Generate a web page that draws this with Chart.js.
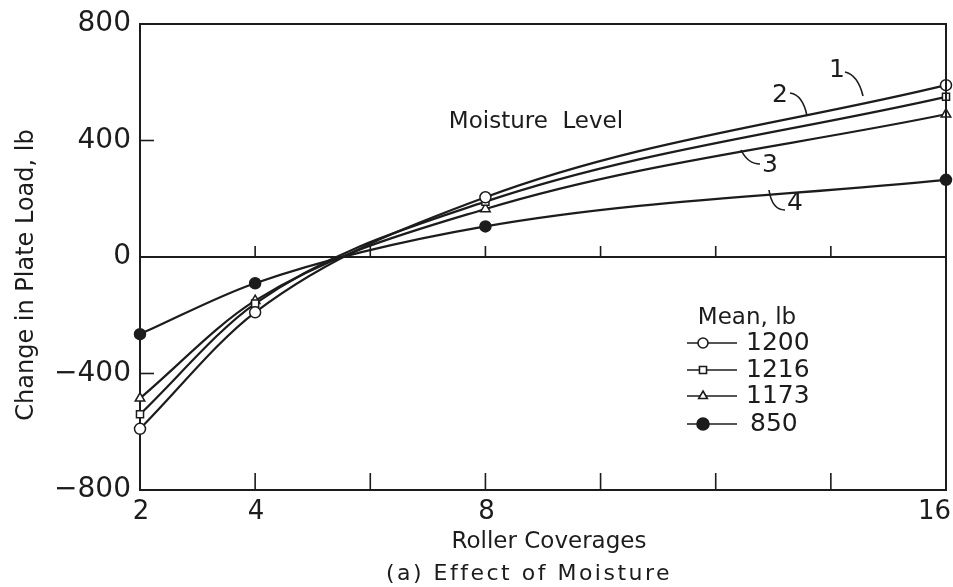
<!DOCTYPE html>
<html>
<head>
<meta charset="utf-8">
<script src="https://cdn.jsdelivr.net/npm/chart.js@4/dist/chart.umd.min.js"></script>
<style>
  html, body { margin: 0; padding: 0; background: #fff; }
  #wrap { width: 953px; height: 587px; }
</style>
</head>
<body>
<div id="wrap"><canvas id="chart"></canvas></div>
<script>
// roller coverages and change in plate load (lb) per moisture level
const coverages = [2, 4, 8, 16];
const level1 = [-590, -190, 205, 590];
const level2 = [-540, -160, 190, 550];
const level3 = [-485, -150, 165, 490];
const level4 = [-265, -90, 105, 265];
const meanLoads = ['1200', '1216', '1173', '850'];
const levelNames = ['1', '2', '3', '4'];
const xTickLabels = [2, 4, 8, 16];
const yTicks = [-800, -400, 0, 400, 800];

const INK = '#1c1c1c';
const FONT = 'DejaVu Sans, sans-serif';

function pts(vals) {
    return coverages.map((c, i) => ({ x: c, y: vals[i] }));
}

const styles = [
    { pointStyle: 'circle', fill: '#fff' },
    { pointStyle: 'rect', fill: '#fff' },
    { pointStyle: 'triangle', fill: '#fff' },
    { pointStyle: 'circle', fill: INK }
];
const series = [level1, level2, level3, level4];

const datasets = series.map((vals, i) => ({
    label: meanLoads[i],
    data: pts(vals),
    borderColor: INK,
    borderWidth: 2.2,
    pointStyle: styles[i].pointStyle,
    pointRadius: styles[i].pointStyle === 'rect' ? 5 : 5.5,
    pointBackgroundColor: styles[i].fill,
    pointBorderColor: INK,
    pointBorderWidth: 1.5,
    cubicInterpolationMode: 'monotone',
    clip: false
}));

// frame, inward ticks, captions, curve labels and legend
const extras = {
    id: 'extras',
    afterDraw(chart) {
        const ctx = chart.ctx;
        const a = chart.chartArea;
        const xs = chart.scales.x, ys = chart.scales.y;
        const y0 = ys.getPixelForValue(0);
        ctx.save();
        ctx.strokeStyle = INK;
        ctx.fillStyle = INK;
        ctx.lineWidth = 2;

        // top and right edges of the frame
        ctx.beginPath();
        ctx.moveTo(a.left, a.top);
        ctx.lineTo(a.right, a.top);
        ctx.lineTo(a.right, a.bottom);
        ctx.stroke();

        // inward x ticks on the bottom axis and on the zero line
        ctx.lineWidth = 1.6;
        xs.ticks.forEach(t => {
            if (t.value <= 2 || t.value >= 16) return;
            const px = xs.getPixelForValue(t.value);
            ctx.beginPath();
            ctx.moveTo(px, a.bottom);
            ctx.lineTo(px, a.bottom - 17);
            ctx.moveTo(px, y0);
            ctx.lineTo(px, y0 - 11);
            ctx.stroke();
        });
        // inward y ticks
        [400, -400].forEach(v => {
            const py = ys.getPixelForValue(v);
            ctx.beginPath();
            ctx.moveTo(a.left, py);
            ctx.lineTo(a.left + 14, py);
            ctx.stroke();
        });

        // x tick labels, last one kept inside the canvas
        ctx.font = '26px ' + FONT;
        ctx.textBaseline = 'middle';
        xTickLabels.forEach(v => {
            const s = String(v);
            let px = xs.getPixelForValue(v);
            const w = ctx.measureText(s).width;
            px = Math.min(px, chart.width - 3 - w / 2);
            ctx.textAlign = 'center';
            ctx.fillText(s, px + 1, a.bottom + 22);
        });

        // axis titles and caption
        ctx.font = '23px ' + FONT;
        ctx.textAlign = 'center';
        ctx.fillText('Roller Coverages', 549, 542);
        ctx.font = '22px ' + FONT;
        ctx.letterSpacing = '2.5px';
        ctx.fillText('(a) Effect of Moisture', 529, 574);
        ctx.letterSpacing = '0px';
        ctx.save();
        ctx.translate(27, 275);
        ctx.rotate(-Math.PI / 2);
        ctx.font = '24px ' + FONT;
        ctx.fillText('Change in Plate Load, lb', 0, 0);
        ctx.restore();

        ctx.font = '23px ' + FONT;
        ctx.fillText('Moisture  Level', 536, 122);

        // curve number labels with leaders
        const lab = (txt, tx, ty, path) => {
            ctx.font = '25px ' + FONT;
            ctx.textAlign = 'center';
            ctx.fillText(txt, tx, ty);
            ctx.lineWidth = 1.6;
            ctx.beginPath();
            ctx.moveTo(path[0][0], path[0][1]);
            ctx.quadraticCurveTo(path[1][0], path[1][1], path[2][0], path[2][1]);
            ctx.stroke();
        };
        lab(levelNames[0], 837, 70, [[845, 72], [858, 75], [863, 96]]);
        lab(levelNames[1], 780, 95, [[790, 93], [803, 95], [807, 116]]);
        lab(levelNames[2], 770, 165, [[741, 150], [748, 164], [760, 164]]);
        lab(levelNames[3], 795, 203, [[769, 190], [772, 210], [785, 210]]);

        // legend
        ctx.font = '23px ' + FONT;
        ctx.textAlign = 'center';
        ctx.fillText('Mean, lb', 747, 318);
        const rows = [343, 370, 396, 424];
        chart.data.datasets.forEach((ds, i) => {
            const ry = rows[i];
            ctx.lineWidth = 1.6;
            ctx.beginPath();
            ctx.moveTo(687, ry);
            ctx.lineTo(737, ry);
            ctx.stroke();
            const r = i === 3 ? 6 : 5;
            ctx.fillStyle = ds.pointBackgroundColor;
            Chart.helpers.drawPoint(ctx, {
                pointStyle: ds.pointStyle,
                radius: r,
                borderWidth: 1.5
            }, 703, ry);
            ctx.fillStyle = INK;
            ctx.font = '25px ' + FONT;
            ctx.textAlign = 'left';
            ctx.fillText(ds.label, i === 3 ? 750 : 746, ry);
        });
        ctx.restore();
    }
};

new Chart(document.getElementById('chart'), {
    type: 'line',
    data: { datasets: datasets },
    plugins: [extras],
    options: {
        responsive: true,
        maintainAspectRatio: false,
        animation: false,
        events: [],
        layout: { padding: { top: 24, right: 6, left: 0, bottom: 0 } },
        plugins: { legend: { display: false }, tooltip: { enabled: false } },
        scales: {
            x: {
                type: 'linear',
                min: 2,
                max: 16,
                ticks: { stepSize: 2, display: false },
                grid: { drawOnChartArea: false, drawTicks: false },
                border: { color: INK, width: 2 },
                afterFit(scale) {
                    scale.height = 97;
                    scale.paddingLeft = 0;
                    scale.paddingRight = 0;
                }
            },
            y: {
                min: -800,
                max: 800,
                afterBuildTicks(scale) {
                    scale.ticks = yTicks.map(v => ({ value: v }));
                },
                ticks: {
                    color: INK,
                    padding: 9,
                    font: { family: FONT, size: 28 },
                    callback: v => (v < 0 ? '\u2212' + Math.abs(v) : String(v))
                },
                grid: {
                    drawTicks: false,
                    lineWidth: 2,
                    color: c => (c.tick && c.tick.value === 0 ? INK : 'rgba(0,0,0,0)')
                },
                border: { color: INK, width: 2 },
                afterFit(scale) {
                    scale.width = 140;
                    scale.paddingTop = 0;
                    scale.paddingBottom = 0;
                }
            }
        }
    }
});
</script>
</body>
</html>
